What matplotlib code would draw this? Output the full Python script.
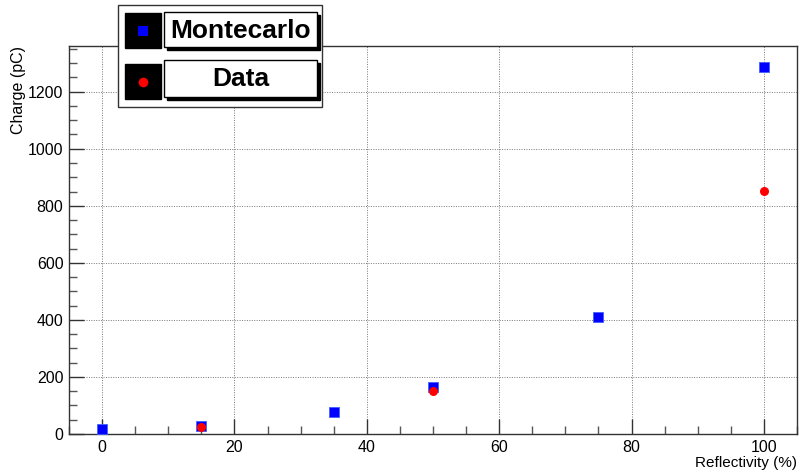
import matplotlib
matplotlib.use("Agg")
import matplotlib.pyplot as plt
from matplotlib.patches import Rectangle
from matplotlib.ticker import MultipleLocator

plt.rcParams['font.family'] = ['Liberation Sans', 'DejaVu Sans']

# Simulated and measured charge vs. reflectivity
mc_reflectivity = [0, 15, 35, 50, 75, 100]
mc_charge = [16, 28, 76, 163, 410, 1287]
data_reflectivity = [15, 50, 100]
data_charge = [25, 150, 853]

W, H = 800, 474
fig = plt.figure(figsize=(W / 100, H / 100), dpi=100)
ax = fig.add_axes([69 / W, 1 - 434 / H, (797 - 69) / W, (434 - 46) / H])

ax.plot(mc_reflectivity, mc_charge, linestyle='none', marker='s', color='#0000ff',
        markersize=7.5, markeredgecolor='#4060ff', markeredgewidth=0.6, zorder=3, clip_on=False)
ax.plot(data_reflectivity, data_charge, linestyle='none', marker='o', color='#ff0000',
        markersize=6.5, markeredgewidth=0, zorder=4, clip_on=False)

ax.set_xlim(-5, 105)
ax.set_ylim(0, 1360)
ax.xaxis.set_major_locator(MultipleLocator(20))
ax.xaxis.set_minor_locator(MultipleLocator(5))
ax.yaxis.set_major_locator(MultipleLocator(200))
ax.yaxis.set_minor_locator(MultipleLocator(50))
ax.tick_params(which='major', direction='in', length=11, width=1, color='#333333',
               labelsize=11.5, pad=4, top=False, right=False)
ax.tick_params(which='minor', direction='in', length=6, width=1, color='#555555',
               top=False, right=False)
ax.grid(True, which='major', linestyle=(0, (1, 1.5)), color='#777777', linewidth=0.7)
for s in ax.spines.values():
    s.set_color('#333333')
    s.set_linewidth(1)

ax.set_xlabel('Reflectivity (%)', fontsize=11, loc='right', labelpad=1)
ax.set_ylabel('Charge (pC)', fontsize=11.5, loc='top', labelpad=1.5)

# Legend drawn as boxed entries
def px(x, y):
    return x / W, 1 - y / H

def frect(x0, y0, x1, y1, **kw):
    fx, fy = px(x0, y1)
    fig.add_artist(Rectangle((fx, fy), (x1 - x0) / W, (y1 - y0) / H,
                             transform=fig.transFigure, **kw))

frect(118, 5, 322, 107, facecolor='white', edgecolor='#333333', linewidth=1, zorder=10)
entries = [('Montecarlo', 's', '#0000ff', 7, 13, 48, 12, 47),
           ('Data', 'o', '#ff0000', 7, 64, 99, 60, 97)]
for label, mk, col, ms, by0, by1, ty0, ty1 in entries:
    frect(125, by0, 161, by1, facecolor='black', edgecolor='black', zorder=11)
    cx, cy = px(143, (by0 + by1) / 2)
    fig.add_artist(plt.Line2D([cx], [cy], marker=mk, color=col, markersize=ms,
                              markeredgewidth=0, transform=fig.transFigure, zorder=12))
    frect(167, ty0 + 3, 320, ty1 + 3, facecolor='black', edgecolor='black', zorder=11)
    frect(164, ty0, 317, ty1, facecolor='white', edgecolor='black', linewidth=1, zorder=12)
    tx, ty = px((164 + 317) / 2, (ty0 + ty1) / 2 + 1)
    fig.text(tx, ty, label, fontsize=19, fontweight='bold', ha='center', va='center',
             zorder=13)

fig.savefig('out.png', dpi=100)
